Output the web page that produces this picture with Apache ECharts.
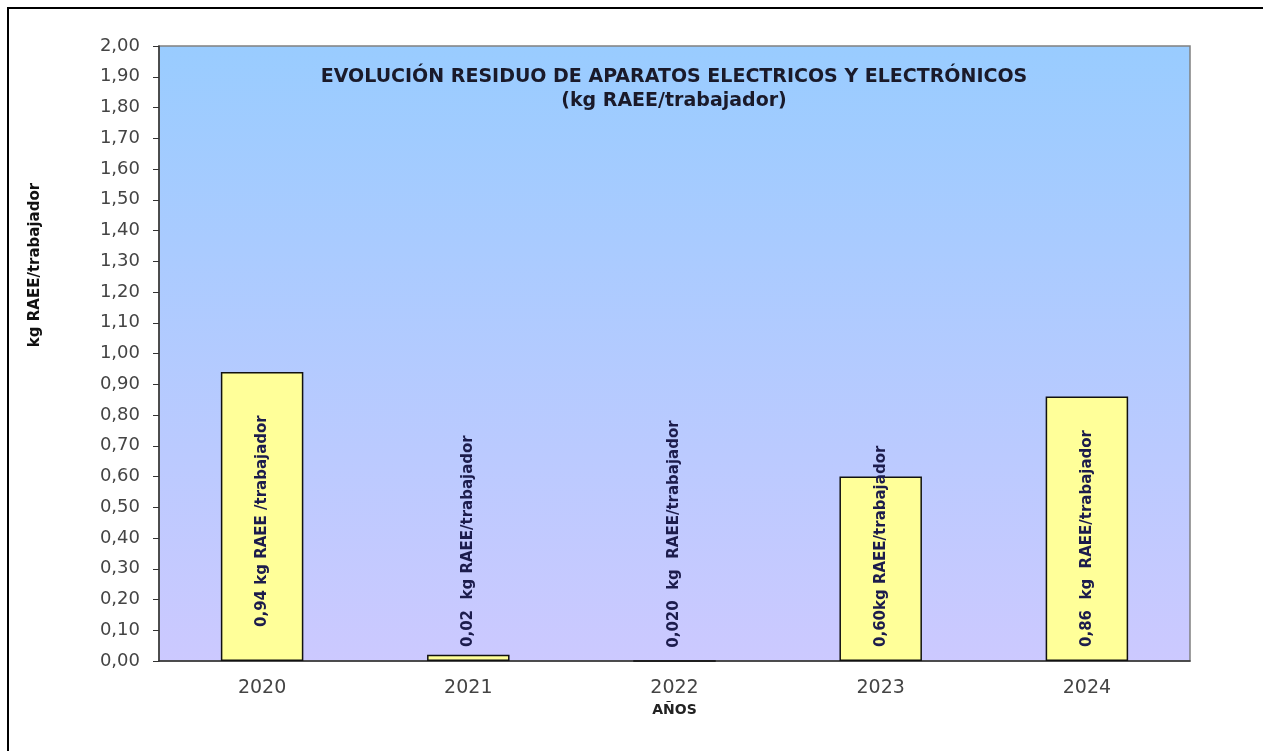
<!DOCTYPE html>
<html>
<head>
<meta charset="utf-8">
<title>Evolución RAEE</title>
<script src="https://cdn.jsdelivr.net/npm/echarts@6/dist/echarts.min.js"></script>
<style>
  html, body { margin: 0; padding: 0; background: #fff; }
  #chart { width: 1263px; height: 751px; }
</style>
</head>
<body>
<div id="chart"></div>
<script>
// datos
const years = ["2020", "2021", "2022", "2023", "2024"];
const raee = [0.94, 0.02, 0, 0.60, 0.86];
const barLabels = [
  "0,94 kg RAEE /trabajador",
  "0,02  kg RAEE/trabajador",
  "0,020  kg  RAEE/trabajador",
  "0,60kg RAEE/trabajador",
  "0,86  kg  RAEE/trabajador"
];

const font = "DejaVu Sans";

let myChart = echarts.init(document.getElementById("chart"));
myChart.setOption({
  animation: false,
  backgroundColor: "#fff",
  title: {
    text: "EVOLUCIÓN RESIDUO DE APARATOS ELECTRICOS Y ELECTRÓNICOS\n(kg RAEE/trabajador)",
    left: 669,
    top: 60,
    textAlign: "center",
    textStyle: {
      fontFamily: font,
      fontSize: 19,
      fontWeight: "bold",
      color: "#1a1a2a",
      lineHeight: 24
    }
  },
  grid: {
    left: 159,
    top: 46,
    right: 73,
    bottom: 90,
    show: true,
    borderColor: "#808080",
    borderWidth: 1.5,
    backgroundColor: new echarts.graphic.LinearGradient(0, 0, 0, 1, [
      { offset: 0, color: "#99CCFF" },
      { offset: 1, color: "#CCC9FF" }
    ])
  },
  xAxis: {
    type: "category",
    data: years,
    name: "AÑOS",
    nameLocation: "middle",
    nameGap: 42,
    nameTextStyle: { fontFamily: font, fontSize: 14, fontWeight: "bold", color: "#222" },
    axisLine: { lineStyle: { color: "#333", width: 1.5 } },
    axisTick: { length: 6, lineStyle: { color: "#333" } },
    axisLabel: { fontFamily: font, fontSize: 19, color: "#444", margin: 18 }
  },
  yAxis: {
    type: "value",
    min: 0,
    max: 2,
    interval: 0.1,
    splitLine: { show: false },
    axisLine: { show: true, lineStyle: { color: "#333", width: 1.5 } },
    axisTick: { show: true, length: 6, lineStyle: { color: "#333" } },
    axisLabel: {
      fontFamily: font,
      fontSize: 18,
      color: "#444",
      margin: 19,
      formatter: v => v.toFixed(2).replace(".", ",")
    }
  },
  graphic: [
    {
      type: "polyline",
      shape: { points: [[8, 751], [8, 8], [1263, 8]] },
      style: { stroke: "#000", lineWidth: 2, fill: null }
    },
    {
      type: "text",
      x: 35,
      y: 265,
      rotation: Math.PI / 2,
      style: {
        text: "kg RAEE/trabajador",
        fontFamily: font,
        fontSize: 15,
        fontWeight: "bold",
        fill: "#111",
        align: "center",
        verticalAlign: "middle"
      }
    }
  ],
  series: [
    {
      type: "bar",
      data: raee.map((v, i) => i === 0 ? { value: v, label: { distance: 34 } } : v),
      barWidth: "40%",
      itemStyle: { color: "#FFFF99", borderColor: "#111", borderWidth: 1.5 },
      label: {
        show: true,
        position: "insideBottom",
        distance: 14,
        rotate: 90,
        align: "left",
        verticalAlign: "middle",
        fontFamily: font,
        fontSize: 15,
        fontWeight: "bold",
        color: "#1c1c4c",
        formatter: p => barLabels[p.dataIndex]
      }
    }
  ]
});
</script>
</body>
</html>
